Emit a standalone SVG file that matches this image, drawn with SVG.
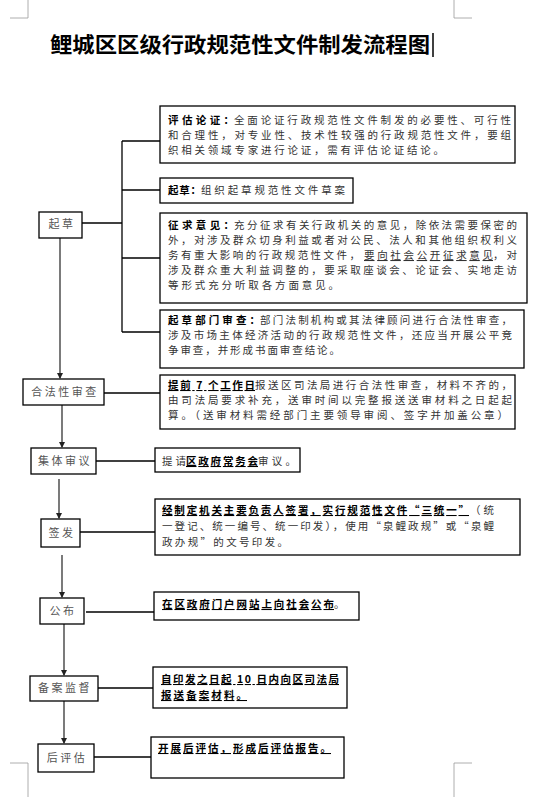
<svg xmlns="http://www.w3.org/2000/svg" width="544" height="797" viewBox="0 0 544 797">
<defs>
<marker id="arr" markerWidth="6" markerHeight="6" refX="5" refY="3" orient="auto" markerUnits="userSpaceOnUse">
<path d="M0,0 L6,3 L0,6 Z" fill="#222"/>
</marker>
<style>
.box{fill:#fff;stroke:#000;stroke-width:1.3}
.ln{stroke:#000;stroke-width:1.3;fill:none}
.arw{stroke:#333;stroke-width:1.3;fill:none;marker-end:url(#arr)}
.t{font-family:"Noto Sans CJK SC","Liberation Serif",serif;font-size:10.5px;fill:#333}
.b{font-family:"Noto Sans CJK SC","Liberation Serif",serif;font-size:10.5px;fill:#000;font-weight:bold}
.n{font-family:"Noto Sans CJK SC","Liberation Serif",serif;font-size:11px;fill:#555;text-anchor:middle;letter-spacing:2.5px}
.u{text-decoration:underline}
.title{font-family:"Noto Sans CJK SC","Liberation Serif",serif;font-size:21px;font-weight:bold;fill:#000}
.crn{stroke:#999;stroke-width:0.8;fill:none}
</style>
</defs>
<g id="corners">
<path class="crn" d="M10,18 H28 V0"/>
<path class="crn" d="M472,18 H454 V0"/>
<path class="crn" d="M10,763 H28 V797"/>
<path class="crn" d="M472,763 H454 V797"/>
</g>
<g id="title">
<text class="title" x="50" y="52" textLength="380" lengthAdjust="spacingAndGlyphs">鲤城区区级行政规范性文件制发流程图</text>
<line x1="433" y1="33" x2="433" y2="57" stroke="#000" stroke-width="1.5"/>
</g>
<g id="connectors">
<path class="ln" d="M122,141 V332"/>
<path class="ln" d="M122,141 H160"/>
<path class="ln" d="M122,190 H160"/>
<path class="ln" d="M122,258 H160"/>
<path class="ln" d="M122,332 H160"/>
<path class="ln" d="M82,223 H122"/>
<path class="ln" d="M104,393 H160"/>
<path class="ln" d="M96,461 H155"/>
<path class="ln" d="M80,532 H155"/>
<path class="ln" d="M86,612 H155"/>
<path class="ln" d="M98,688 H155"/>
<path class="ln" d="M94,757 H152"/>
<path class="arw" d="M60,238 V378"/>
<path class="arw" d="M62,405 V447"/>
<path class="arw" d="M59,479 V518"/>
<path class="arw" d="M62,555 V597"/>
<path class="arw" d="M64,624 V675"/>
<path class="arw" d="M64,701 V743"/>
</g>
<g id="n-qicao">
<rect class="box" x="39" y="212" width="43" height="26"/>
<text class="n" x="62" y="228">起草</text>
</g>
<g id="n-hefa">
<rect class="box" x="23" y="379" width="81" height="26"/>
<text class="n" x="65" y="396">合法性审查</text>
</g>
<g id="n-jiti">
<rect class="box" x="31" y="448" width="65" height="26"/>
<text class="n" x="65" y="465">集体审议</text>
</g>
<g id="n-qianfa">
<rect class="box" x="41" y="519" width="39" height="28"/>
<text class="n" x="62" y="537">签发</text>
</g>
<g id="n-gongbu">
<rect class="box" x="40" y="598" width="44" height="26"/>
<text class="n" x="63" y="615">公布</text>
</g>
<g id="n-beian">
<rect class="box" x="30" y="676" width="68" height="25"/>
<text class="n" x="65" y="692">备案监督</text>
</g>
<g id="n-houpg">
<rect class="box" x="38" y="744" width="56" height="28"/>
<text class="n" x="67" y="762">后评估</text>
</g>
<g id="d-pinggu">
<rect class="box" x="160" y="106" width="355" height="57"/>
<text class="b" x="168" y="124" textLength="66" lengthAdjust="spacing">评估论证：</text>
<text class="t" x="234" y="124" textLength="277" lengthAdjust="spacing">全面论证行政规范性文件制发的必要性、可行性</text>
<text class="t" x="168" y="139" textLength="343" lengthAdjust="spacing">和合理性，对专业性、技术性较强的行政规范性文件，要组</text>
<text class="t" x="168" y="154" textLength="276" lengthAdjust="spacing">织相关领域专家进行论证，需有评估论证结论。</text>
</g>
<g id="d-qicao">
<rect class="box" x="160" y="178" width="193" height="25"/>
<text class="b" x="168" y="194" textLength="33" lengthAdjust="spacing">起草：</text>
<text class="t" x="201" y="194" textLength="144" lengthAdjust="spacing">组织起草规范性文件草案</text>
</g>
<g id="d-zhengqiu">
<rect class="box" x="160" y="213" width="367" height="90"/>
<text class="b" x="168" y="229" textLength="66" lengthAdjust="spacing">征求意见：</text>
<text class="t" x="234" y="229" textLength="283" lengthAdjust="spacing">充分征求有关行政机关的意见，除依法需要保密的</text>
<text class="t" x="168" y="244" textLength="349" lengthAdjust="spacing">外，对涉及群众切身利益或者对公民、法人和其他组织权利义</text>
<text class="t" x="168" y="259" textLength="192" lengthAdjust="spacing">务有重大影响的行政规范性文件，</text>
<text class="t u" x="364" y="259" textLength="129" lengthAdjust="spacing" fill="#000">要向社会公开征求意见</text>
<text class="t" x="493" y="259" textLength="24" lengthAdjust="spacing">，对</text>
<text class="t" x="168" y="274" textLength="349" lengthAdjust="spacing">涉及群众重大利益调整的，要采取座谈会、论证会、实地走访</text>
<text class="t" x="168" y="289" textLength="171" lengthAdjust="spacing">等形式充分听取各方面意见。</text>
</g>
<g id="d-bumen">
<rect class="box" x="160" y="310" width="364" height="58"/>
<text class="b" x="168" y="324" textLength="92" lengthAdjust="spacing">起草部门审查：</text>
<text class="t" x="260" y="324" textLength="252" lengthAdjust="spacing">部门法制机构或其法律顾问进行合法性审查，</text>
<text class="t" x="168" y="339" textLength="344" lengthAdjust="spacing">涉及市场主体经济活动的行政规范性文件，还应当开展公平竞</text>
<text class="t" x="168" y="354" textLength="172" lengthAdjust="spacing">争审查，并形成书面审查结论。</text>
</g>
<g id="d-hefa">
<rect class="box" x="160" y="375" width="355" height="54"/>
<text class="b u" x="168" y="389" textLength="87" lengthAdjust="spacing">提前 7 个工作日</text>
<text class="t" x="255" y="389" textLength="257" lengthAdjust="spacing">报送区司法局进行合法性审查，材料不齐的，</text>
<text class="t" x="168" y="404" textLength="344" lengthAdjust="spacing">由司法局要求补充，送审时间以完整报送送审材料之日起起</text>
<text class="t" x="168" y="419" textLength="340" lengthAdjust="spacing">算。（送审材料需经部门主要领导审阅、签字并加盖公章）</text>
</g>
<g id="d-jiti">
<rect class="box" x="155" y="448" width="145" height="24"/>
<text class="t" x="162" y="465" textLength="24" lengthAdjust="spacing">提请</text>
<text class="b u" x="186" y="465" textLength="72" lengthAdjust="spacing">区政府常务会</text>
<text class="t" x="258" y="465" textLength="38" lengthAdjust="spacing">审议。</text>
</g>
<g id="d-qianfa">
<rect class="box" x="155" y="499" width="365" height="56"/>
<text class="b u" x="162" y="514" textLength="307" lengthAdjust="spacing">经制定机关主要负责人签署，实行规范性文件“三统一”</text>
<text class="t" x="470" y="514" textLength="24" lengthAdjust="spacing">（统</text>
<text class="t" x="162" y="530" textLength="332" lengthAdjust="spacing">一登记、统一编号、统一印发），使用“泉鲤政规”或“泉鲤</text>
<text class="t" x="162" y="546" textLength="126" lengthAdjust="spacing">政办规”的文号印发。</text>
</g>
<g id="d-gongbu">
<rect class="box" x="154" y="592" width="205" height="28"/>
<text class="b u" x="162" y="608" textLength="172" lengthAdjust="spacing">在区政府门户网站上向社会公布</text>
<text class="t" x="334" y="608">。</text>
</g>
<g id="d-beian">
<rect class="box" x="153" y="667" width="194" height="41"/>
<text class="b u" x="161" y="683" textLength="178" lengthAdjust="spacing">自印发之日起 10 日内向区司法局</text>
<text class="b u" x="161" y="699" textLength="86" lengthAdjust="spacing">报送备案材料。</text>
</g>
<g id="d-houpg">
<rect class="box" x="151" y="737" width="193" height="41"/>
<text class="b u" x="158" y="752" textLength="173" lengthAdjust="spacing">开展后评估，形成后评估报告。</text>
</g>
</svg>
